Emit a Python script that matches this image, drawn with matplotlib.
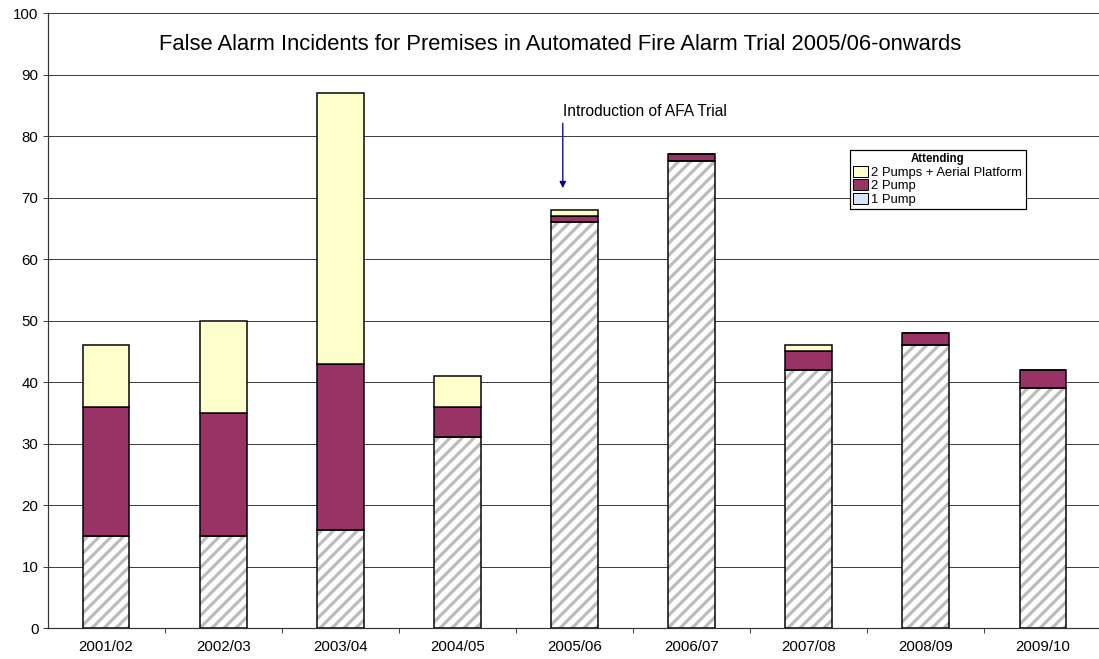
import matplotlib
matplotlib.use("Agg")
import matplotlib.pyplot as plt
import numpy as np
from matplotlib.patches import Patch

# incidents per year, split by attendance
years = ["2001/02", "2002/03", "2003/04", "2004/05", "2005/06",
         "2006/07", "2007/08", "2008/09", "2009/10"]
one_pump = [15, 15, 16, 31, 66, 76, 42, 46, 39]
two_pump = [21, 20, 27, 5, 1, 1, 3, 2, 3]
aerial = [10, 15, 44, 5, 1, 0, 1, 0, 0]

YELLOW = "#FFFFCC"
MAROON = "#993366"
HATCH_GREY = "#bcbcbc"

plt.rcParams.update({
    "font.family": ["Liberation Sans", "DejaVu Sans"],
    "hatch.linewidth": 3.2,
})

DPI = 72
fig = plt.figure(figsize=(1099 / DPI, 659 / DPI), dpi=DPI)
fig.patch.set_facecolor("white")
ax = fig.add_axes([47.5 / 1099, 1 - 628 / 659, 1054 / 1099, 615 / 659])

x = np.arange(len(years))
w = 0.40
one = np.array(one_pump)
two = np.array(two_pump)
aer = np.array(aerial)

# hatched base segment: grey stripes, then a black outline on top
ax.bar(x, one, w, color="white", edgecolor=HATCH_GREY, linewidth=0,
       hatch="//", zorder=3)
ax.bar(x, one, w, fill=False, edgecolor="black", linewidth=1.5, zorder=4)
ax.bar(x, two, w, bottom=one, color=MAROON, edgecolor="black",
       linewidth=1.5, zorder=3)
ax.bar(x, aer, w, bottom=one + two, color=YELLOW, edgecolor="black",
       linewidth=1.5, zorder=3)

ax.set_xlim(-0.5, len(years) - 0.5)
ax.set_ylim(0, 100)
ax.set_yticks(range(0, 101, 10))
ax.set_xticks(x)
ax.set_xticklabels(years)
ax.set_xticks(x[:-1] + 0.5, minor=True)
ax.tick_params(axis="x", which="major", length=0, pad=12, labelsize=15)
ax.tick_params(axis="x", which="minor", length=5, width=1, color="#444444")
ax.tick_params(axis="y", length=5, width=1, color="#444444", pad=4,
               labelsize=15)
ax.yaxis.grid(True, color="#404040", linewidth=1)
ax.set_axisbelow(True)
for side in ("top", "right"):
    ax.spines[side].set_visible(False)
for side in ("left", "bottom"):
    ax.spines[side].set_color("#333333")
    ax.spines[side].set_linewidth(1.2)

fig.text(560 / 1099, 1 - 44 / 659, "False Alarm Incidents for Premises in "
         "Automated Fire Alarm Trial 2005/06-onwards",
         ha="center", va="center", fontsize=22)

# marker for the start of the AFA trial
ax.annotate("", xy=(3.9, 71.2), xytext=(3.9, 82.4),
            arrowprops=dict(arrowstyle="-|>", color="#000080", lw=1.3,
                            mutation_scale=13), zorder=5)
ax.text(3.9, 83.3, "Introduction of AFA Trial", ha="left", va="baseline",
        fontsize=15.5)

handles = [
    Patch(facecolor=YELLOW, edgecolor="black", label="2 Pumps + Aerial Platform"),
    Patch(facecolor=MAROON, edgecolor="black", label="2 Pump"),
    Patch(facecolor="#d6e6f8", edgecolor="black", label="1 Pump"),
]
leg = ax.legend(handles=handles, title="Attending", loc="upper left",
                bbox_to_anchor=(850 / 1099, 1 - 150 / 659),
                bbox_transform=fig.transFigure, fontsize=13,
                title_fontproperties={"weight": "bold", "size": 11.5},
                frameon=True, fancybox=False, framealpha=1,
                edgecolor="black", handlelength=1.1, handleheight=0.9,
                handletextpad=0.3, labelspacing=0.05, borderpad=0.25,
                borderaxespad=0)
leg.get_frame().set_linewidth(1.2)
leg.set_zorder(6)

fig.savefig("out.png", dpi=DPI, facecolor="white")
